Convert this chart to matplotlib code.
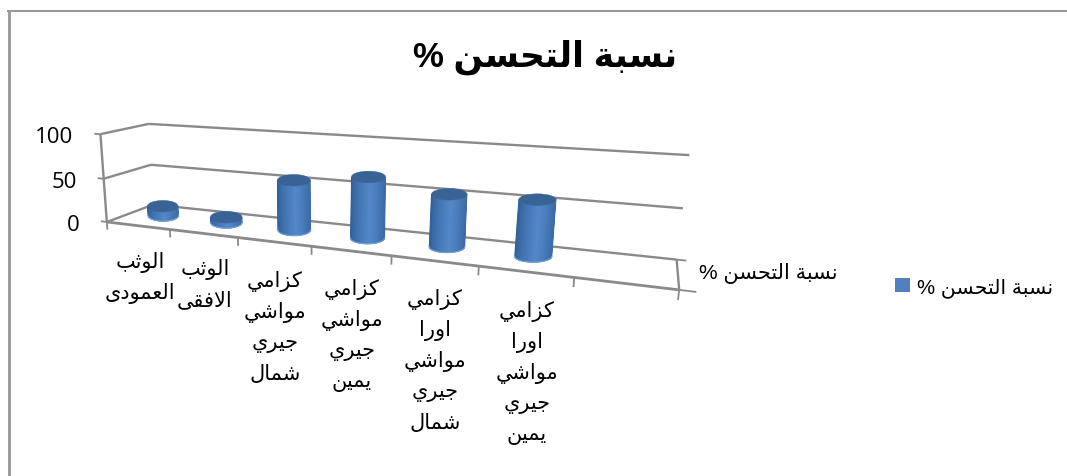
import numpy as np
import matplotlib
matplotlib.use("Agg")
import matplotlib.pyplot as plt
from matplotlib.collections import PolyCollection
from matplotlib.colors import to_rgb
from matplotlib.patches import Ellipse, Patch

# ---------- chart content ----------
title = "نسبة التحسن %"
series_name = "نسبة التحسن %"
categories = [
    ["الوثب", "العمودى"],
    ["الوثب", "الافقى"],
    ["كزامي", "مواشي", "جيري", "شمال"],
    ["كزامي", "مواشي", "جيري", "يمين"],
    ["كزامي", "اورا", "مواشي", "جيري", "شمال"],
    ["كزامي", "اورا", "مواشي", "جيري", "يمين"],
]
values = [11, 6, 55, 65, 54, 56]
y_ticks = [0, 50, 100]
slot_count = 7

# ---------- Arabic text shaping (matplotlib lays glyphs out left to right, unjoined) ----------
FORMS = {  # isolated, final, initial, medial
    "ا": (0xFE8D, 0xFE8E, None, None), "ب": (0xFE8F, 0xFE90, 0xFE91, 0xFE92),
    "ة": (0xFE93, 0xFE94, None, None), "ت": (0xFE95, 0xFE96, 0xFE97, 0xFE98),
    "ث": (0xFE99, 0xFE9A, 0xFE9B, 0xFE9C), "ج": (0xFE9D, 0xFE9E, 0xFE9F, 0xFEA0),
    "ح": (0xFEA1, 0xFEA2, 0xFEA3, 0xFEA4), "د": (0xFEA9, 0xFEAA, None, None),
    "ر": (0xFEAD, 0xFEAE, None, None), "ز": (0xFEAF, 0xFEB0, None, None),
    "س": (0xFEB1, 0xFEB2, 0xFEB3, 0xFEB4), "ش": (0xFEB5, 0xFEB6, 0xFEB7, 0xFEB8),
    "ع": (0xFEC9, 0xFECA, 0xFECB, 0xFECC), "ف": (0xFED1, 0xFED2, 0xFED3, 0xFED4),
    "ق": (0xFED5, 0xFED6, 0xFED7, 0xFED8), "ك": (0xFED9, 0xFEDA, 0xFEDB, 0xFEDC),
    "ل": (0xFEDD, 0xFEDE, 0xFEDF, 0xFEE0), "م": (0xFEE1, 0xFEE2, 0xFEE3, 0xFEE4),
    "ن": (0xFEE5, 0xFEE6, 0xFEE7, 0xFEE8), "و": (0xFEED, 0xFEEE, None, None),
    "ى": (0xFEEF, 0xFEF0, None, None), "ي": (0xFEF1, 0xFEF2, 0xFEF3, 0xFEF4),
    "لا": (0xFEFB, 0xFEFC, None, None),
}


def shape(text):
    """Return text in joined presentation forms, in visual left-to-right order."""
    units = []
    i = 0
    while i < len(text):
        if text[i:i + 2] == "لا":
            units.append("لا")
            i += 2
        else:
            units.append(text[i])
            i += 1
    out = []
    for k, ch in enumerate(units):
        if ch not in FORMS:
            out.append(ch)
            continue
        prev = units[k - 1] if k else None
        nxt = units[k + 1] if k + 1 < len(units) else None
        join_prev = prev in FORMS and FORMS[prev][2] is not None
        join_next = nxt in FORMS and FORMS[ch][2] is not None
        iso, fin, ini, med = FORMS[ch]
        code = med if join_prev and join_next else fin if join_prev else ini if join_next else iso
        out.append(chr(code))
    return "".join(reversed(out))


# ---------- perspective of the chart box: slot fraction, value, depth -> canvas pixels ----------
anchors = [
    ((0, 0, 0), (110, 222)), ((1, 0, 0), (679, 292)),
    ((0, 0, 1), (150, 206)), ((1, 0, 1), (677, 260)),
    ((0, 100, 0), (98, 135)), ((0, 100, 1), (151, 125)),
    ((1, 100, 1), (689, 156)), ((0, 50, 1), (152, 166)),
    ((1, 50, 1), (683, 209)), ((0, 50, 0), (103, 180)),
]
rows = []
for (u, v, w), (px, py) in anchors:
    X = [u, v / 100, w, 1]
    rows.append(X + [0, 0, 0, 0] + [-px * c for c in X])
    rows.append([0, 0, 0, 0] + X + [-py * c for c in X])
camera = np.linalg.svd(np.array(rows, float))[2][-1].reshape(3, 4)


def project(u, v, w):
    u, v, w = np.broadcast_arrays(np.asarray(u, float), np.asarray(v, float), np.asarray(w, float))
    h = camera @ np.stack([u, v / 100, w, np.ones_like(u)])
    return h[0] / h[2], h[1] / h[2]


# ---------- figure ----------
fig = plt.figure(figsize=(10.67, 4.77), dpi=100)
ax = fig.add_axes([0, 0, 1, 1])
ax.set_xlim(0, 1067)
ax.set_ylim(477, 0)
ax.axis("off")

ARABIC = ["Liberation Sans", "DejaVu Sans"]
NUMERIC = ["Open Sans", "DejaVu Sans"]
GRID = "#8a8a8a"
FRAME = "#969696"

ax.plot([8.5, 8.5], [477, 12], color=FRAME, lw=2.0, solid_capstyle="butt")
ax.plot([7, 1067], [12, 12], color=FRAME, lw=1.4, solid_capstyle="butt")


def seg(a, b, lw=1.7):
    xs, ys = project(*np.array([a, b]).T)
    ax.plot(xs, ys, color=GRID, lw=lw, solid_capstyle="butt", zorder=2)


# walls and gridlines
for val in y_ticks:
    seg((0, val, 0), (0, val, 1))
    seg((0, val, 1), (1, val, 1))
    seg((-0.014, val, 0), (0, val, 0), lw=1.3)
    x, y = project(-0.014, val, 0)
    ax.text(x - 21, y + 3, str(val), family=NUMERIC, fontsize=16, color="black",
            ha="right", va="center")
seg((0, 0, 0), (0, 100, 0))
seg((0, 0, 0), (1, 0, 0), lw=2.0)
seg((1, 0, 0), (1, 0, 1))
seg((1, 0, 0), (1.022, 0, 0), lw=1.3)
seg((1, 0, 1), (1.014, 0, 1), lw=1.3)
for i in range(slot_count + 1):
    seg((i / slot_count, 0, 0), (i / slot_count, -9, 0), lw=1.3)

# cylinders: ends are level ellipses centred on the projected axis,
# growing only gently towards the near end of the box
EDGE, MID = np.array(to_rgb("#2f5d94")), np.array(to_rgb("#5388c9"))
TOP = "#386394"
RIM = "#6f9fd6"
half_width_u, mid_depth, end_flatness = 0.0295, 0.55, 0.34
t = np.linspace(-1, 1, 61)
for i, val in enumerate(values):
    uc = (i + 0.5) / slot_count
    lx, _ = project(uc - half_width_u, 0, 1)
    rx_, _ = project(uc + half_width_u, 0, 1)
    rx = 0.6 * (rx_ - lx) / 2 + 8
    ry = 5.8
    bx, by = project(uc, 0, mid_depth)
    tx, ty = project(uc, val, mid_depth)
    sag = ry * np.sqrt(1 - t ** 2)
    polys, colors = [], []
    for a in range(len(t) - 1):
        polys.append([(bx + rx * t[a], by + sag[a]), (bx + rx * t[a + 1], by + sag[a + 1]),
                      (tx + rx * t[a + 1], ty + sag[a + 1]), (tx + rx * t[a], ty + sag[a])])
        tm = (t[a] + t[a + 1]) / 2
        f = np.clip(1 - abs(tm - 0.12) / 1.12, 0, 1) ** 0.7
        colors.append(EDGE + (MID - EDGE) * f)
    ax.add_collection(PolyCollection(polys, facecolors=colors, edgecolors=colors,
                                     linewidths=0.5, zorder=4))
    ax.plot(bx + rx * t, by + sag, color=RIM, lw=0.9, zorder=4.5)
    ax.add_patch(Ellipse((tx, ty), 2 * rx, 2 * ry, facecolor=TOP, edgecolor=TOP, lw=0.3, zorder=5))

# category labels, one stacked line at a time
label_x = [140, 205, 275, 352, 435, 527]
label_y = [263, 270, 282, 290, 300, 312]
line_step = 31
for lines, x, y in zip(categories, label_x, label_y):
    for n, line in enumerate(lines):
        ax.text(x, y + n * line_step, shape(line), family=ARABIC, fontsize=15,
                color="black", ha="center", va="center")

# series-axis label, title and legend
ax.text(768, 274, shape(series_name), family=ARABIC, fontsize=15, ha="center", va="center")
ax.text(545, 57, shape(title), family=ARABIC, fontsize=25, fontweight="bold", ha="center", va="center")
ax.legend(handles=[Patch(facecolor="#4f81bd", label=shape(series_name))],
          loc="center left", bbox_to_anchor=(895, 288), bbox_transform=ax.transData,
          frameon=False, handlelength=0.73, handleheight=0.73, handletextpad=0.35,
          borderpad=0, borderaxespad=0, prop={"family": ARABIC, "size": 14.7})

fig.savefig("out.png", dpi=100)
